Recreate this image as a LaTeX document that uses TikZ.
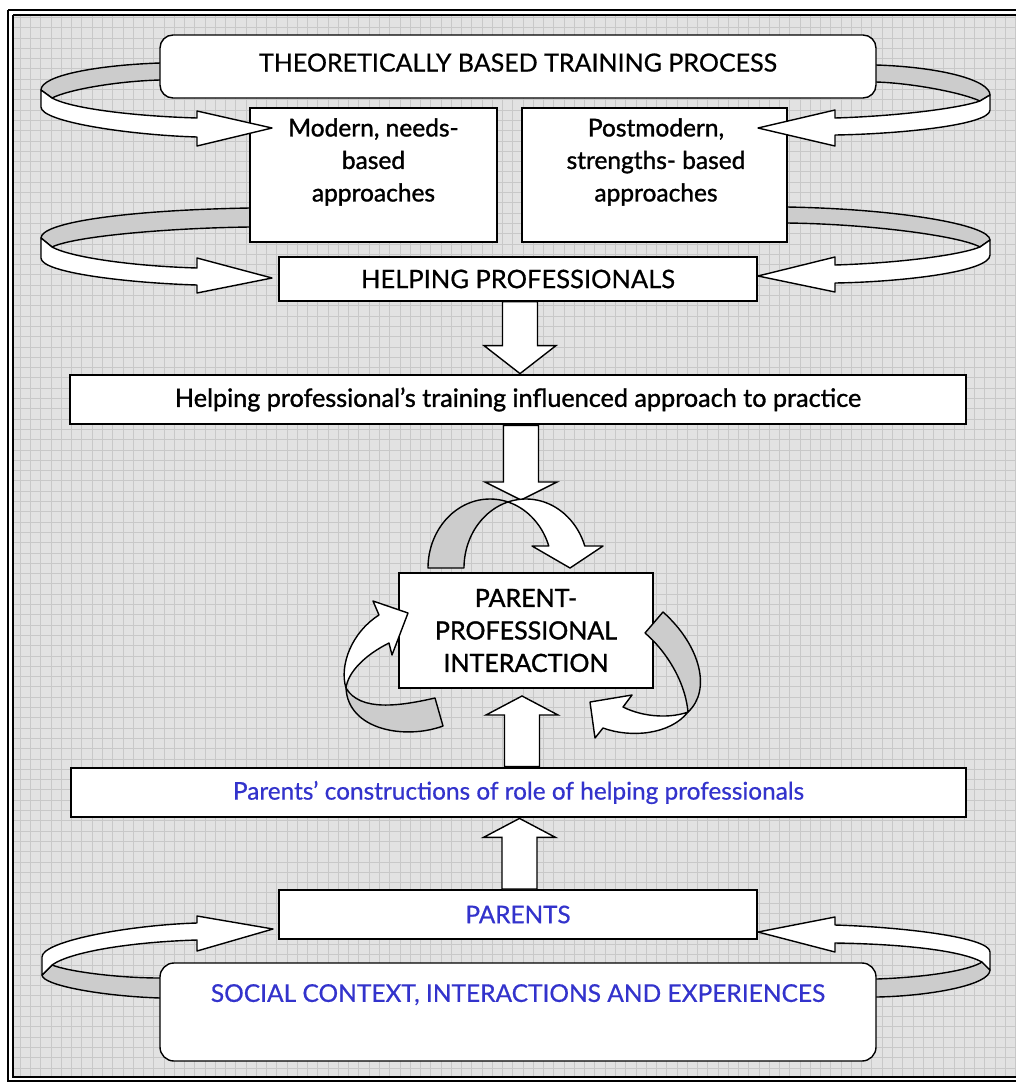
\documentclass[tikz,border=0pt]{standalone}
\usepackage{fontspec}
\setmainfont{Lato}
\newfontfamily\medium{Lato}[FakeBold=0.6]
\newfontfamily\heavy{Lato}[FakeBold=1.3]
\usetikzlibrary{calc}
\definecolor{tblue}{RGB}{51,51,204}
\definecolor{bandgray}{RGB}{204,204,204}
\definecolor{bggray}{RGB}{226,226,226}
\definecolor{gridgray}{RGB}{200,200,200}
\newcommand\fsz[1]{\fontsize{#1}{32.5}\selectfont}
% vertical block arrow: #1 from, #2 tip, #3 head length
\newcommand\vblock[3]{%
  \path[blockarrow] let \p1=#1, \p2=#2, \n1={sign(\y1-\y2)*#3} in
   ({\x2-17.5},\y1) -- ({\x2-17.5},{\y2+\n1}) -- ({\x2-36},{\y2+\n1}) -- (\x2,\y2)
   -- ({\x2+36},{\y2+\n1}) -- ({\x2+17.5},{\y2+\n1}) -- ({\x2+17.5},\y1) -- cycle;}
\begin{document}
\begin{tikzpicture}[x=1pt,y=-1pt,
  box/.style={draw, fill=white, line width=1.4pt, inner sep=0pt, align=center},
  thickbox/.style={box, line width=2.8pt},
  ribbonback/.style={fill=bandgray, draw, line width=1.4pt, line join=round},
  ribbonfront/.style={fill=white, draw, line width=1.4pt, line join=round},
  blockarrow/.style={fill=white, draw, line width=1.4pt},
  gridline/.style={gridgray, line width=0.7pt}]
\useasboundingbox (0,0) rectangle (1016,1082);
\fill[white] (0,0) rectangle (1016,1082);
\fill[bggray] (13,15) rectangle (1016,1077);
\begin{scope}
  \clip (13,15) rectangle (1016,1077);
  \foreach \i in {0,...,100} {\draw[gridline] ({10+10.26*\i},0) -- ++(0,1100);}
  \foreach \i in {0,...,106} {\draw[gridline] (0,{7+10.3*\i}) -- ++(1100,0);}
\end{scope}
\draw[line width=1.3pt] (8,10) -- (1016,10);
\draw[line width=1.3pt] (13,15) -- (1016,15);
\draw[line width=1.3pt] (8,10) -- (8,1081) -- (1016,1081);
\draw[line width=1.3pt] (13,15) -- (13,1077) -- (1016,1077);

% ---- back (gray) parts of ribbon arrows
\path[ribbonback] (166,63) -- (160,63) .. controls (100,65) and (41,75) .. (41,90) -- (52,98)
  .. controls (70,89) and (120,81) .. (160,80) -- (166,80) -- cycle;
\path[ribbonback] (256,208) -- (250,208) .. controls (130,210) and (41,222) .. (41,238) -- (52,247)
  .. controls (75,236) and (170,228) .. (250,227) -- (256,227) -- cycle;
\path[ribbonback] (870,65) -- (876,65) .. controls (940,67) and (990,80) .. (990,95) -- (980,101)
  .. controls (960,92) and (910,83) .. (876,82) -- (870,82) -- cycle;
\path[ribbonback] (781,207) -- (787,207) .. controls (900,209) and (990,225) .. (990,240) -- (980,247)
  .. controls (960,236) and (870,224) .. (787,223) -- (781,223) -- cycle;
\path[ribbonback] (166,978) -- (160,978) .. controls (120,978) and (70,972) .. (52,965) -- (42,975)
  .. controls (42,985) and (100,996) .. (160,998) -- (166,998) -- cycle;
\path[ribbonback] (871,979) -- (877,979) .. controls (930,977) and (970,970) .. (982,962) -- (990,970)
  .. controls (990,985) and (930,996) .. (877,997) -- (871,997) -- cycle;

% ---- boxes
\node[box, rounded corners=13pt, minimum width=716pt, minimum height=63pt, text depth=8pt, font=\medium\fsz{25}]
  (theory) at (518,66.5) {THEORETICALLY BASED TRAINING PROCESS};
\node[box, minimum width=247pt, minimum height=134pt] (modern) at (373.5,175) {};
\node[align=center, font=\heavy\fsz{24.5}, inner sep=0pt] (moderntxt) at (373.5,162) {Modern, needs-\\based\\approaches};
\node[box, minimum width=265pt, minimum height=134pt] (postmod) at (654.5,175) {};
\node[align=center, font=\heavy\fsz{24.5}, inner sep=0pt] (posttxt) at (656,162) {Postmodern,\\strengths- based\\approaches};
\node[box, minimum width=478pt, minimum height=44pt, font=\medium\fsz{25.5}] (hp) at (518,279) {HELPING PROFESSIONALS};
\node[thickbox, minimum width=896pt, minimum height=49pt, font=\heavy\fsz{25.2}] (train) at (518,399.5)
  {Helping professional’s training influenced approach to practice};
\node[box, line width=2pt, minimum width=254pt, minimum height=115pt, font=\heavy\fsz{25}] (ppi) at (526,630.5)
  {PARENT-\\PROFESSIONAL\\INTERACTION};
\node[thickbox, minimum width=895pt, minimum height=49pt, font=\medium\fsz{24.4}, text=tblue] (constr) at (518.5,792.5)
  {Parents’ constructions of role of helping professionals};
\node[box, line width=2pt, minimum width=478pt, minimum height=49pt, font=\medium\fsz{24.3}, text=tblue] (parents) at (518,914.5) {PARENTS};
\node[box, rounded corners=14pt, minimum width=716pt, minimum height=98pt, text depth=38pt, font=\medium\fsz{24.5}, text=tblue]
  (social) at (518,1012) {SOCIAL CONTEXT, INTERACTIONS AND EXPERIENCES};

% ---- front (white) parts of ribbon arrows
\path[ribbonfront] (41,90) -- (41,107) .. controls (41,122) and (130,135) .. (197,137) -- (197,146) -- (272,128)
  -- (197,111) -- (197,118) .. controls (130,116) and (70,108) .. (52,98) -- cycle;
\path[ribbonfront] (41,238) -- (41,258) .. controls (41,273) and (130,283) .. (197,285) -- (197,293) -- (272,278)
  -- (197,258) -- (197,268) .. controls (130,266) and (70,257) .. (52,247) -- cycle;
\path[ribbonfront] (990,95) -- (990,110) .. controls (990,125) and (900,134) .. (835,135) -- (835,146) -- (758,128)
  -- (835,110) -- (835,118) .. controls (900,116) and (960,108) .. (980,101) -- cycle;
\path[ribbonfront] (990,240) -- (990,255) .. controls (990,272) and (900,282) .. (835,283) -- (835,292) -- (758,276)
  -- (835,257) -- (835,265) .. controls (900,263) and (960,255) .. (980,247) -- cycle;
\path[ribbonfront] (42,957) -- (42,975) -- (52,965) .. controls (70,952) and (130,942) .. (197,940) -- (197,951)
  -- (273,929) -- (197,916) -- (197,923) .. controls (130,925) and (42,941) .. (42,957) -- cycle;
\path[ribbonfront] (990,952) -- (990,970) -- (982,962) .. controls (960,950) and (900,944) .. (835,943) -- (835,952)
  -- (758,932) -- (835,917) -- (835,925) .. controls (900,927) and (990,937) .. (990,952) -- cycle;

% ---- straight block arrows
\coordinate (ctop) at (521,500);
\vblock{(hp.south)}{([xshift=2pt]train.north)}{28}
\vblock{(train.south)}{(ctop)}{18}
\vblock{(constr.north)}{([xshift=-4pt,yshift=-7pt]ppi.south)}{19}
\vblock{(parents.north)}{([xshift=1pt]constr.south)}{19}

% ---- curved arrows round the interaction box
\path[ribbonback] plot[domain=180:73.1, samples=40] ({490+62*cos(\x)},{568-69*sin(\x)})
  -- plot[domain=106.9:180, samples=40] ({526+62*cos(\x)},{568-69*sin(\x)}) -- cycle;
\path[ribbonfront] plot[domain=106.9:18.6, samples=40] ({526+62*cos(\x)},{568-69*sin(\x)})
  -- (603,546) -- (570,568) -- (532,546)
  -- plot[domain=18.6:73.1, samples=30] ({490+62*cos(\x)},{568-69*sin(\x)}) -- cycle;
% left
\path[ribbonback] (346,688) .. controls (348,730) and (405,740) .. (443,726) -- (435,698)
  .. controls (400,706) and (360,712) .. (346,688) -- cycle;
\path[ribbonfront] (379,615) -- (373,601) -- (408,613) -- (392,655) -- (389,643)
  .. controls (365,655) and (348,672) .. (346,688) .. controls (339,665) and (352,632) .. (379,615) -- cycle;
% right
\path[ribbonback] (663,612) .. controls (700,645) and (712,690) .. (688,712)
  .. controls (685,680) and (665,650) .. (645,633) -- cycle;
\path[ribbonfront] (688,712) .. controls (670,735) and (630,738) .. (603,728) -- (595,738) -- (590,702)
  -- (632,695) -- (623,707) .. controls (645,718) and (672,718) .. (688,712) -- cycle;
\end{tikzpicture}
\end{document}
